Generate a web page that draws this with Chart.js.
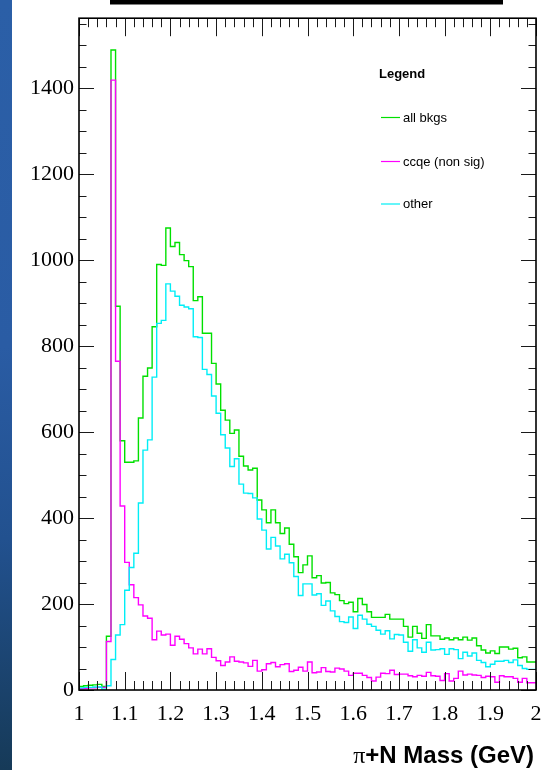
<!DOCTYPE html>
<html>
<head>
<meta charset="utf-8">
<script src="https://cdn.jsdelivr.net/npm/chart.js@4.4.0/dist/chart.umd.min.js"></script>
<style>
  html, body { margin: 0; padding: 0; background: #fff; overflow: hidden; }
  canvas { display: block; }
</style>
</head>
<body>
<canvas id="c" width="556" height="770"></canvas>
<script>
// pi+N invariant mass, 100 bins of 0.01 GeV from 1.0 to 2.0
const massLow = 1.0;
const binWidth = 0.01;

const allBkgs = [
  9, 8, 10, 11, 12, 13, 8, 125, 1489, 893,
  580, 530, 530, 533, 633, 730, 749, 845, 990, 988,
  1075, 1032, 1041, 1013, 999, 985, 906, 915, 830, 830,
  760, 712, 651, 628, 597, 605, 544, 521, 512, 516,
  442, 419, 389, 419, 389, 364, 377, 339, 310, 273,
  291, 312, 261, 266, 249, 250, 226, 222, 208, 201,
  204, 182, 213, 199, 182, 169, 169, 169, 176, 165,
  165, 165, 148, 123, 148, 132, 120, 152, 126, 126,
  118, 121, 117, 121, 117, 123, 116, 121, 103, 93,
  86, 91, 85, 100, 100, 95, 97, 75, 77, 65
];

const ccqeNonSig = [
  3, 3, 4, 5, 5, 6, 6, 113, 1419, 765,
  428, 297, 245, 215, 198, 172, 167, 117, 137, 128,
  130, 104, 125, 118, 108, 98, 84, 95, 84, 96,
  76, 68, 57, 65, 77, 67, 65, 63, 55, 69,
  44, 47, 61, 64, 54, 59, 61, 43, 46, 53,
  44, 65, 40, 42, 52, 43, 42, 51, 49, 44,
  34, 39, 39, 34, 29, 21, 30, 39, 38, 46,
  36, 37, 37, 33, 31, 34, 32, 41, 33, 32,
  22, 38, 21, 27, 44, 35, 37, 35, 34, 29,
  32, 31, 18, 33, 31, 31, 27, 18, 27, 17
];

const other = [
  6, 5, 6, 6, 7, 7, 2, 10, 71, 128,
  152, 232, 285, 318, 435, 558, 582, 728, 853, 860,
  945, 928, 916, 895, 891, 887, 822, 820, 746, 734,
  684, 644, 594, 563, 520, 538, 479, 458, 457, 447,
  398, 372, 328, 355, 335, 305, 316, 296, 264, 220,
  247, 247, 221, 224, 197, 207, 184, 171, 159, 157,
  170, 143, 174, 165, 153, 148, 139, 130, 138, 119,
  129, 128, 111, 90, 117, 98, 88, 111, 93, 94,
  96, 83, 96, 94, 73, 88, 79, 86, 69, 64,
  54, 60, 67, 67, 69, 64, 70, 57, 50, 48
];

const xTickValues = [1, 1.1, 1.2, 1.3, 1.4, 1.5, 1.6, 1.7, 1.8, 1.9, 2];
const xTickLabels = ['1', '1.1', '1.2', '1.3', '1.4', '1.5', '1.6', '1.7', '1.8', '1.9', '2'];
const yTickValues = [0, 200, 400, 600, 800, 1000, 1200, 1400];
const yTickLabels = ['0', '200', '400', '600', '800', '1000', '1200', '1400'];

const seriesNames = ['all bkgs', 'ccqe (non sig)', 'other'];
const axisTitleSymbol = 'π';
const axisTitleText = '+N Mass (GeV)';
const legendHeader = 'Legend';

const X_MIN = 1, X_MAX = 2, Y_MIN = 0, Y_MAX = 1563;
const COLORS = { all: '#00e000', ccqe: '#ff00ff', other: '#00eef6' };

// step outline: one point at each lower bin edge, last edge closes the final bin
function histPoints(values) {
  const pts = values.map((v, i) => ({ x: massLow + i * binWidth, y: v }));
  pts.push({ x: massLow + values.length * binWidth, y: values[values.length - 1] });
  return pts;
}

const SERIF = '"Liberation Serif", "Times New Roman", serif';
const SANS = '"Liberation Sans", Arial, sans-serif';

const decorations = {
  id: 'decorations',
  beforeDraw(chart) {
    const ctx = chart.ctx;
    ctx.save();
    ctx.fillStyle = '#ffffff';
    ctx.fillRect(0, 0, chart.width, chart.height);
    // blue canvas edge on the left
    const g = ctx.createLinearGradient(0, 0, 0, chart.height);
    g.addColorStop(0, '#2b5fa7');
    g.addColorStop(0.45, '#2a5ca4');
    g.addColorStop(0.7, '#22518f');
    g.addColorStop(1, '#163a58');
    ctx.fillStyle = g;
    ctx.fillRect(0, 0, 12, chart.height);
    // title box clipped at the top edge
    ctx.fillStyle = '#000';
    ctx.fillRect(110, 0, 393, 4.5);
    ctx.restore();
  },
  afterDraw(chart) {
    const { ctx, chartArea: a, scales: { x, y } } = chart;
    ctx.save();
    // tick marks on all four sides, pointing inward
    ctx.strokeStyle = '#1a1a1a';
    ctx.lineWidth = 1;
    ctx.beginPath();
    const nx = Math.round((X_MAX - X_MIN) / 0.02);
    for (let i = 0; i <= nx; i++) {
      const px = Math.round(x.getPixelForValue(X_MIN + i * 0.02)) + 0.5;
      const len = i % 5 === 0 ? 18 : 9;
      ctx.moveTo(px, a.bottom); ctx.lineTo(px, a.bottom - len);
      ctx.moveTo(px, a.top); ctx.lineTo(px, a.top + len);
    }
    for (let v = Y_MIN, i = 0; v <= Y_MAX; v += 50, i++) {
      const py = Math.round(y.getPixelForValue(v)) + 0.5;
      const len = i % 4 === 0 ? 15 : 7.5;
      ctx.moveTo(a.left, py); ctx.lineTo(a.left + len, py);
      ctx.moveTo(a.right, py); ctx.lineTo(a.right - len, py);
    }
    ctx.stroke();
    // frame
    ctx.strokeStyle = '#000';
    ctx.lineWidth = 1.6;
    ctx.strokeRect(a.left, a.top, a.right - a.left, a.bottom - a.top);

    // legend
    ctx.fillStyle = '#000';
    ctx.textBaseline = 'middle';
    ctx.textAlign = 'left';
    ctx.font = 'bold 13px ' + SANS;
    ctx.fillText(legendHeader, 379, 74);
    ctx.font = '13px ' + SANS;
    const rows = [117.5, 161.5, 204];
    chart.data.datasets.forEach((ds, i) => {
      ctx.strokeStyle = ds.borderColor;
      ctx.lineWidth = 1.2;
      ctx.beginPath();
      ctx.moveTo(381, rows[i]); ctx.lineTo(400, rows[i]);
      ctx.stroke();
      ctx.fillStyle = '#000';
      ctx.fillText(ds.label, 403, rows[i] + 0.5);
    });

    // x-axis title, right aligned with the frame
    ctx.textBaseline = 'alphabetic';
    ctx.font = 'bold 24px ' + SANS;
    const w2 = ctx.measureText(axisTitleText).width;
    ctx.font = '24px ' + SERIF;
    const w1 = ctx.measureText(axisTitleSymbol).width;
    const startX = a.right - 2 - w1 - w2;
    ctx.fillText(axisTitleSymbol, startX, 763);
    ctx.font = 'bold 24px ' + SANS;
    ctx.fillText(axisTitleText, startX + w1, 763);
    ctx.restore();
  }
};

const common = { fill: false, pointRadius: 0, borderWidth: 1.4, stepped: 'after', tension: 0 };

new Chart(document.getElementById('c'), {
  type: 'line',
  data: {
    datasets: [
      { ...common, label: seriesNames[0], data: histPoints(allBkgs), borderColor: COLORS.all, order: 3 },
      { ...common, label: seriesNames[1], data: histPoints(ccqeNonSig), borderColor: COLORS.ccqe, order: 2 },
      { ...common, label: seriesNames[2], data: histPoints(other), borderColor: COLORS.other, order: 1 }
    ]
  },
  options: {
    responsive: false,
    devicePixelRatio: 1,
    animation: false,
    layout: { padding: { left: 0, right: 20, top: 10, bottom: 0 } },
    plugins: { legend: { display: false }, tooltip: { enabled: false }, title: { display: false } },
    scales: {
      x: {
        type: 'linear', min: X_MIN, max: X_MAX,
        grid: { display: false, drawTicks: false },
        border: { display: false },
        afterBuildTicks: s => { s.ticks = xTickValues.map(v => ({ value: v })); },
        afterFit: s => { s.height = 80; },
        ticks: {
          autoSkip: false, maxRotation: 0, minRotation: 0, padding: 11, color: '#000',
          font: { family: SERIF, size: 22 },
          callback: (v, i) => xTickLabels[i]
        }
      },
      y: {
        type: 'linear', min: Y_MIN, max: Y_MAX,
        grid: { display: false, drawTicks: false },
        border: { display: false },
        afterBuildTicks: s => { s.ticks = yTickValues.map(v => ({ value: v })); },
        afterFit: s => { s.width = 79; },
        ticks: {
          autoSkip: false, padding: 5, color: '#000',
          font: { family: SERIF, size: 22 },
          callback: (v, i) => yTickLabels[i]
        }
      }
    }
  },
  plugins: [decorations]
});
</script>
</body>
</html>
